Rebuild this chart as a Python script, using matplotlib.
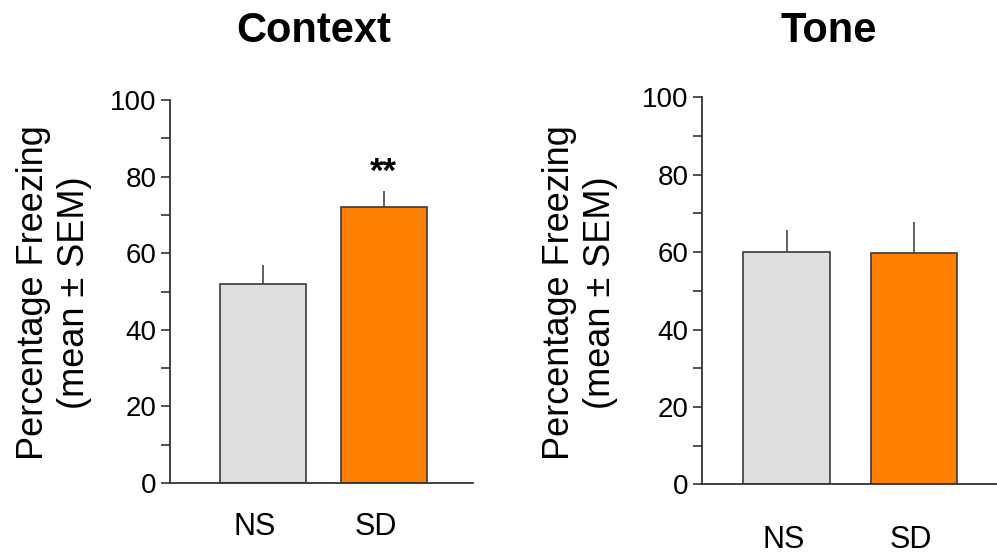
import matplotlib
matplotlib.use("Agg")
import matplotlib.pyplot as plt
import matplotlib.transforms as mtransforms

plt.rcParams['font.family'] = ['Liberation Sans', 'DejaVu Sans']

groups = ["NS", "SD"]
context_mean = [52.0, 72.1]
context_sem = [4.8, 4.1]
tone_mean = [60.1, 59.8]
tone_sem = [5.6, 7.9]
bar_colors = ["#DEDEDE", "#FF7F00"]
yticks_major = [0, 20, 40, 60, 80, 100]
yticks_minor = [10, 30, 50, 70, 90]

W, H = 997, 553
fig = plt.figure(figsize=(W / 100, H / 100), dpi=100)

def px_axes(x0, y0_img, x1, y1_img):
    return fig.add_axes([x0 / W, (H - y1_img) / H, (x1 - x0) / W, (y1_img - y0_img) / H])

panels = [
    dict(box=(170, 100, 473, 483), xlim=(-0.77, 1.74), width=0.71, mean=context_mean, sem=context_sem,
         title="Context", title_x=314, ylab_x=54, pad=21, dx=-8, stars=True),
    dict(box=(701.7, 97.3, 997, 484.3), xlim=(-0.665, 1.65), width=0.68, mean=tone_mean, sem=tone_sem,
         title="Tone", title_x=829, ylab_x=580, pad=29, dx=-3, stars=False),
]

for p in panels:
    ax = px_axes(*p["box"])
    pos = list(range(len(groups)))
    ax.bar(pos, p["mean"], width=p["width"], color=bar_colors, edgecolor="#3a3a3a",
           linewidth=1.2, zorder=2)
    ax.errorbar(pos, p["mean"], yerr=[[0] * len(groups), p["sem"]], fmt="none",
                ecolor="#555555", elinewidth=1.3, capsize=0, zorder=1)
    ax.set_xlim(*p["xlim"])
    ax.set_ylim(0, 100)
    for s in ["top", "right"]:
        ax.spines[s].set_visible(False)
    for s in ["left", "bottom"]:
        ax.spines[s].set_linewidth(1.3)
        ax.spines[s].set_color("#333333")
    ax.set_yticks(yticks_major)
    ax.set_yticks(yticks_minor, minor=True)
    ax.tick_params(axis="y", which="both", direction="out", length=6.5, width=1.2,
                   color="#333333", labelsize=20, pad=3)
    ax.set_xticks(pos)
    ax.set_xticklabels(groups)
    ax.tick_params(axis="x", length=0, labelsize=22, pad=p["pad"])
    off = mtransforms.ScaledTranslation(p["dx"] / 100, 0, fig.dpi_scale_trans)
    for lab in ax.get_xticklabels():
        lab.set_transform(lab.get_transform() + off)
    ax.patch.set_visible(False)
    if p["stars"]:
        ax.text(1, p["mean"][1] + p["sem"][1] + 2.4, "**", ha="center", va="baseline",
                fontsize=25, fontweight="bold")
    fig.text(p["title_x"] / W, 1 - 31 / H, p["title"], ha="center", va="center",
             fontsize=30, fontweight="bold")
    fig.text(p["ylab_x"] / W, 1 - 292.5 / H, "Percentage Freezing\n(mean ± SEM)",
             rotation=90, ha="center", va="center", multialignment="center",
             fontsize=26, linespacing=1.2)

fig.savefig("out.png", dpi=100)
